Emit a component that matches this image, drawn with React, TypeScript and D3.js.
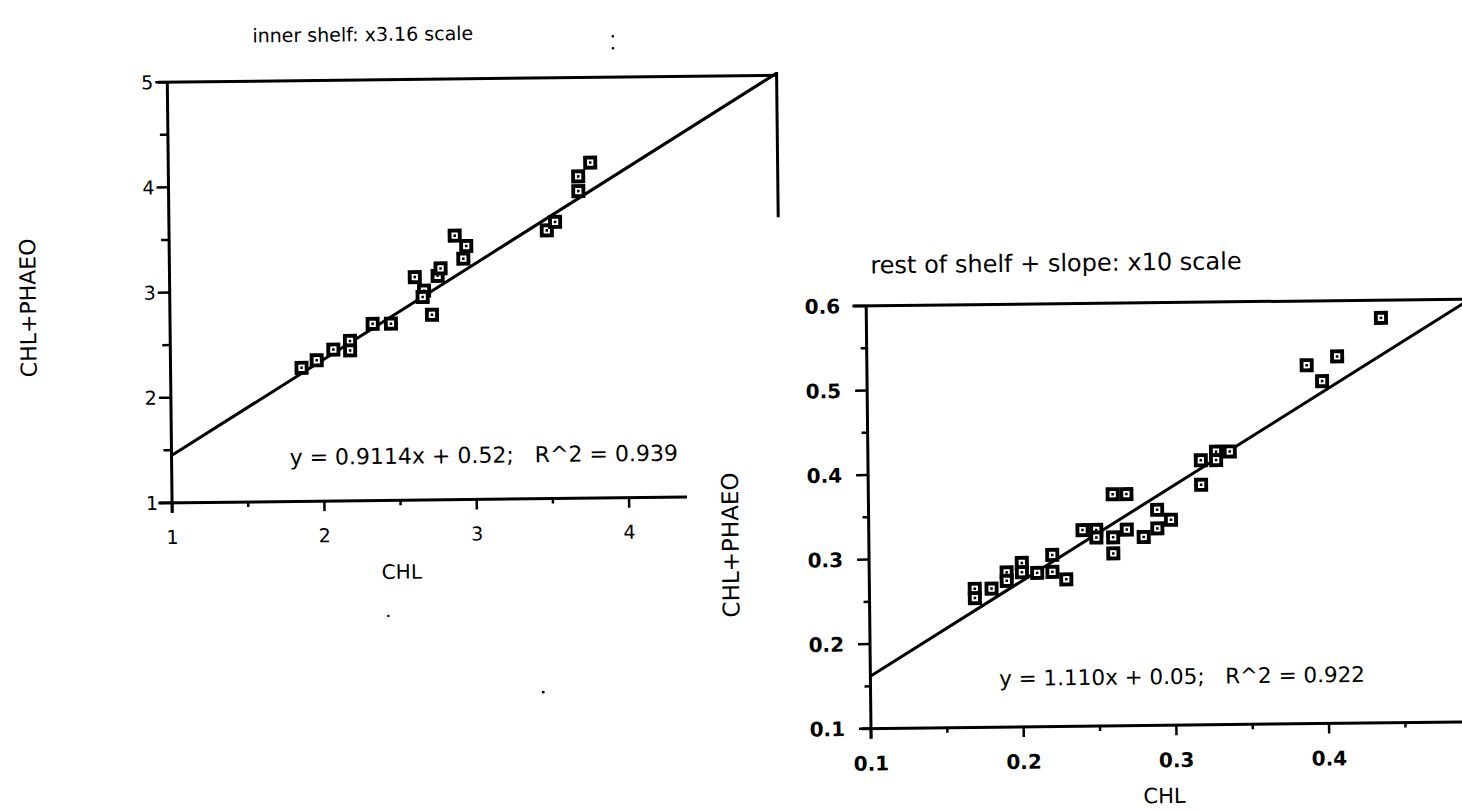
import React from 'react';
import * as d3 from 'd3';

// ---- inner shelf (x3.16 scale) ----
const innerChl = [1.86, 1.96, 2.07, 2.18, 2.18, 2.33, 2.45, 2.61, 2.67, 2.66, 2.72, 2.76, 2.78, 2.875, 2.95, 2.93, 3.48, 3.535, 3.69, 3.69, 3.77];
const innerTot = [2.27, 2.34, 2.44, 2.52, 2.43, 2.68, 2.68, 3.12, 2.99, 2.93, 2.76, 3.13, 3.2, 3.51, 3.41, 3.29, 3.55, 3.63, 3.92, 4.06, 4.19];
const innerXTicks = [1, 2, 3, 4];
const innerXMinor = [1.5, 2.5, 3.5];
const innerYTicks = [1, 2, 3, 4, 5];
const innerYMinor = [1.5, 2.5, 3.5, 4.5];
const innerFitX = [1, 5];
const innerFitY = [1.45, 5.02];
const innerTitle = 'inner shelf: x3.16 scale';
const innerEq = 'y = 0.9114x + 0.52;\u00a0\u00a0\u00a0R^2 = 0.939';

// ---- rest of shelf + slope (x10 scale) ----
const restChl = [0.169, 0.169, 0.18, 0.19, 0.19, 0.2, 0.2, 0.21, 0.22, 0.22, 0.229, 0.24, 0.249, 0.249, 0.26, 0.269, 0.26, 0.26, 0.269, 0.28, 0.289, 0.289, 0.298, 0.318, 0.318, 0.328, 0.328, 0.337, 0.388, 0.398, 0.408, 0.437];
const restTot = [0.264, 0.253, 0.264, 0.283, 0.273, 0.294, 0.283, 0.282, 0.303, 0.283, 0.274, 0.332, 0.332, 0.323, 0.374, 0.374, 0.323, 0.304, 0.332, 0.323, 0.355, 0.333, 0.343, 0.413, 0.384, 0.423, 0.413, 0.423, 0.524, 0.505, 0.534, 0.579];
const restXTicks = [0.1, 0.2, 0.3, 0.4];
const restXMinor = [0.15, 0.25, 0.35, 0.45];
const restYTicks = [0.1, 0.2, 0.3, 0.4, 0.5, 0.6];
const restYMinor = [0.15, 0.25, 0.35, 0.45, 0.55];
const restFitX = [0.1, 0.5];
const restFitY = [0.162, 0.605];
const restTitle = 'rest of shelf + slope: x10 scale';
const restEq = 'y = 1.110x + 0.05;\u00a0\u00a0\u00a0R^2 = 0.922';

const xLabel = 'CHL';
const yLabel = 'CHL+PHAEO';

const FONT = '"DejaVu Sans", sans-serif';
const INK = '#000';

function Marker({ cx, cy, s }: { cx: number; cy: number; s: number }) {
  const inner = s * 0.45;
  const dot = s * 0.18;
  return (
    <g>
      <rect x={cx - s / 2} y={cy - s / 2} width={s} height={s} fill={INK} />
      <rect x={cx - inner / 2} y={cy - inner / 2} width={inner} height={inner} fill="#fff" />
      <rect x={cx - dot / 2} y={cy - dot / 2} width={dot} height={dot} fill={INK} />
    </g>
  );
}

export default function App() {
  // inner shelf scales
  const ix = d3.scaleLinear().domain([1, 4]).range([171, 628]);
  const iy = d3.scaleLinear().domain([1, 5]).range([496.5, 75.8]);
  // rest of shelf scales
  const rx = d3.scaleLinear().domain([0.1, 0.4]).range([867.3, 1325.4]);
  const ry = d3.scaleLinear().domain([0.1, 0.6]).range([730.2, 307.5]);

  const line = d3.line<[number, number]>();
  const innerFit = line(innerFitX.map((v, i) => [ix(v), iy(innerFitY[i])] as [number, number])) || '';
  const restFit = line(restFitX.map((v, i) => [rx(v), ry(restFitY[i])] as [number, number])) || '';
  const fmtR = d3.format('.1f');

  const sw = 3;

  return (
    <svg
      width={1462}
      height={810}
      style={{ position: 'absolute', left: 0, top: 0, background: '#fff' }}
      fontFamily={FONT}
    >
      <rect x={0} y={0} width={1462} height={810} fill="#fff" />
      <g transform="rotate(-0.65 731 405)">
        {/* ===== inner shelf panel ===== */}
        <text x={367} y={37} fontSize={19} textAnchor="middle" fill={INK}>{innerTitle}</text>
        {/* frame */}
        <line x1={ix(0.94)} x2={ix(5)} y1={iy(5)} y2={iy(5)} stroke={INK} strokeWidth={sw} />
        <line x1={ix(5)} x2={ix(5)} y1={iy(5.03)} y2={iy(3.65)} stroke={INK} strokeWidth={sw} />
        <line x1={ix(1)} x2={ix(1)} y1={iy(1) + 10} y2={iy(5)} stroke={INK} strokeWidth={sw} />
        <line x1={ix(0.91)} x2={ix(4.38)} y1={iy(1)} y2={iy(1)} stroke={INK} strokeWidth={sw} />
        {/* y ticks */}
        {innerYTicks.map((t) => (
          <g key={'iyt' + t}>
            <line x1={ix(1) - 12} x2={ix(1)} y1={iy(t)} y2={iy(t)} stroke={INK} strokeWidth={2.5} />
            <text x={ix(1) - 14} y={iy(t)} dy="0.36em" fontSize={19} textAnchor="end" fill={INK}>{String(t)}</text>
          </g>
        ))}
        {innerYMinor.map((t) => (
          <line key={'iym' + t} x1={ix(1) - 8} x2={ix(1)} y1={iy(t)} y2={iy(t)} stroke={INK} strokeWidth={2.5} />
        ))}
        {/* x ticks */}
        {innerXTicks.map((t) => (
          <g key={'ixt' + t}>
            <line x1={ix(t)} x2={ix(t)} y1={iy(1)} y2={iy(1) + 10} stroke={INK} strokeWidth={2.5} />
            <text x={ix(t)} y={iy(1) + 41} fontSize={19} textAnchor="middle" fill={INK}>{String(t)}</text>
          </g>
        ))}
        {innerXMinor.map((t) => (
          <line key={'ixm' + t} x1={ix(t)} x2={ix(t)} y1={iy(1)} y2={iy(1) + 5} stroke={INK} strokeWidth={2.5} />
        ))}
        <text x={400} y={575} fontSize={20} textAnchor="middle" fill={INK}>{xLabel}</text>
        <text transform="translate(37 300) rotate(-90)" fontSize={22} textAnchor="middle" fill={INK}>{yLabel}</text>
        {/* fit */}
        <path d={innerFit} stroke={INK} strokeWidth={sw} fill="none" />
        {/* points */}
        {innerChl.map((v, i) => (
          <Marker key={'ip' + i} cx={ix(v)} cy={iy(innerTot[i])} s={14} />
        ))}
        <text x={289} y={460} fontSize={22} fill={INK}>{innerEq}</text>

        {/* scan specks */}
        <circle cx={617} cy={35} r={1.3} fill={INK} />
        <circle cx={617} cy={47} r={1.3} fill={INK} />
        <circle cx={386} cy={612} r={1.2} fill={INK} />
        <circle cx={540} cy={690} r={1.4} fill={INK} />

        {/* ===== rest of shelf panel ===== */}
        <text x={872} y={275} fontSize={24} textAnchor="start" fill={INK}>{restTitle}</text>
        <line x1={rx(0.091)} x2={rx(0.5)} y1={ry(0.6)} y2={ry(0.6)} stroke={INK} strokeWidth={sw} />
        <line x1={rx(0.1)} x2={rx(0.1)} y1={ry(0.1) + 10} y2={ry(0.6)} stroke={INK} strokeWidth={sw} />
        <line x1={rx(0.094)} x2={rx(0.5)} y1={ry(0.1)} y2={ry(0.1)} stroke={INK} strokeWidth={sw} />
        {restYTicks.map((t) => (
          <g key={'ryt' + t}>
            <line x1={rx(0.1) - 12} x2={rx(0.1)} y1={ry(t)} y2={ry(t)} stroke={INK} strokeWidth={2.5} />
            <text x={rx(0.1) - 26} y={ry(t)} dy="0.36em" fontSize={20} fontWeight={600} textAnchor="end" fill={INK}>{fmtR(t)}</text>
          </g>
        ))}
        {restYMinor.map((t) => (
          <line key={'rym' + t} x1={rx(0.1) - 6} x2={rx(0.1)} y1={ry(t)} y2={ry(t)} stroke={INK} strokeWidth={2.5} />
        ))}
        {restXTicks.map((t) => (
          <g key={'rxt' + t}>
            <line x1={rx(t)} x2={rx(t)} y1={ry(0.1)} y2={ry(0.1) + 10} stroke={INK} strokeWidth={2.5} />
            <text x={rx(t)} y={ry(0.1) + 42} fontSize={20} fontWeight={600} textAnchor="middle" fill={INK}>{fmtR(t)}</text>
          </g>
        ))}
        {restXMinor.map((t) => (
          <line key={'rxm' + t} x1={rx(t)} x2={rx(t)} y1={ry(0.1)} y2={ry(0.1) + 5} stroke={INK} strokeWidth={2.5} />
        ))}
        <text x={1160} y={808} fontSize={21} textAnchor="middle" fill={INK}>{xLabel}</text>
        <text transform="translate(737 545) rotate(-90)" fontSize={23} textAnchor="middle" fill={INK}>{yLabel}</text>
        <path d={restFit} stroke={INK} strokeWidth={sw} fill="none" />
        {restChl.map((v, i) => (
          <Marker key={'rp' + i} cx={rx(v)} cy={ry(restTot[i])} s={14} />
        ))}
        <text x={996} y={689} fontSize={21.5} fill={INK}>{restEq}</text>
      </g>
    </svg>
  );
}
